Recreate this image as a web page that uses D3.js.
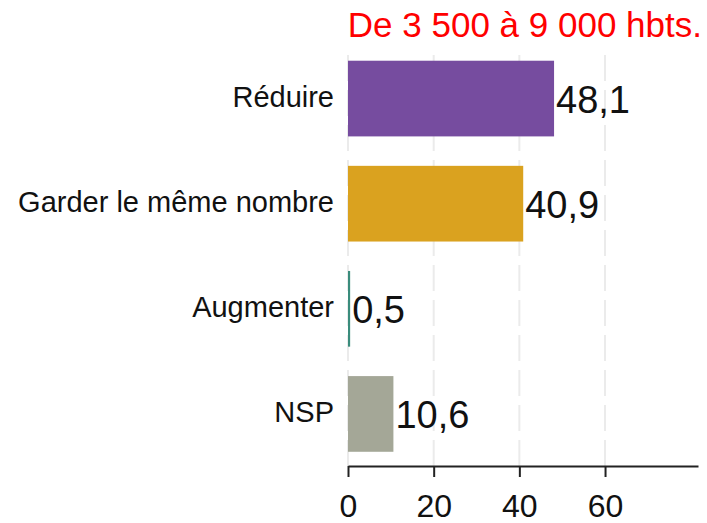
<!DOCTYPE html>
<html lang="fr">
<head>
<meta charset="utf-8">
<script src="https://cdn.jsdelivr.net/npm/d3@7"></script>
<style>
  html, body { margin: 0; padding: 0; background: #fff; }
  svg { display: block; font-family: "Liberation Sans", Arial, sans-serif; }
</style>
</head>
<body>
<svg id="chart" width="707" height="523"></svg>
<script>
// Répartition des réponses (%) — communes de 3 500 à 9 000 habitants
const categories = ["Réduire", "Garder le même nombre", "Augmenter", "NSP"];
const values = [48.1, 40.9, 0.5, 10.6];
const valueLabels = ["48,1", "40,9", "0,5", "10,6"];
const barColors = ["#764C9F", "#DAA21F", "#3A8C7C", "#A4A797"];
const tickValues = [0, 20, 40, 60];
const tickLabels = ["0", "20", "40", "60"];
const title = "De 3 500 à 9 000 hbts.";

const svg = d3.select("#chart");

const x = d3.scaleLinear().domain([0, 81.7]).range([348, 698]);
const y = d3.scaleBand()
  .domain(categories)
  .range([46, 466.5])
  .paddingInner(0.28)
  .paddingOuter(0.14);

const axisY = 466;

// Lignes de repère verticales en tirets
svg.append("g")
  .selectAll("line")
  .data(tickValues)
  .join("line")
  .attr("x1", d => x(d))
  .attr("x2", d => x(d))
  .attr("y1", 55)
  .attr("y2", axisY)
  .attr("stroke", "#ebebeb")
  .attr("stroke-width", 2)
  .attr("stroke-dasharray", "26,9");

// Barres
svg.append("g")
  .selectAll("rect")
  .data(values)
  .join("rect")
  .attr("x", x(0))
  .attr("y", (d, i) => y(categories[i]))
  .attr("width", d => x(d) - x(0))
  .attr("height", y.bandwidth())
  .attr("fill", (d, i) => barColors[i]);

// Valeurs à droite des barres
svg.append("g")
  .selectAll("text")
  .data(values)
  .join("text")
  .attr("x", d => x(d) + 2)
  .attr("y", (d, i) => y(categories[i]) + y.bandwidth() / 2 + 14.5)
  .attr("font-size", 38)
  .attr("fill", "#111")
  .text((d, i) => valueLabels[i]);

// Libellés des catégories
svg.append("g")
  .selectAll("text")
  .data(categories)
  .join("text")
  .attr("x", 334)
  .attr("y", d => y(d) + y.bandwidth() / 2 + 8)
  .attr("text-anchor", "end")
  .attr("font-size", 29)
  .attr("fill", "#111")
  .text(d => d);

// Axe horizontal
const xAxis = d3.axisBottom(x)
  .tickValues(tickValues)
  .tickFormat((d, i) => tickLabels[i])
  .tickSize(11)
  .tickSizeOuter(0)
  .tickPadding(17);

const gAxis = svg.append("g")
  .attr("transform", `translate(0,${axisY})`)
  .call(xAxis);

gAxis.select(".domain")
  .attr("stroke", "#222")
  .attr("stroke-width", 2);
gAxis.selectAll(".tick line")
  .attr("stroke", "#222")
  .attr("stroke-width", 2);
gAxis.selectAll(".tick text")
  .attr("font-family", "\"Liberation Sans\", Arial, sans-serif")
  .attr("font-size", 32)
  .attr("fill", "#111");

// Titre
svg.append("text")
  .attr("x", 702)
  .attr("y", 37)
  .attr("text-anchor", "end")
  .attr("font-size", 35)
  .attr("fill", "#ff0000")
  .text(title);
</script>
</body>
</html>
